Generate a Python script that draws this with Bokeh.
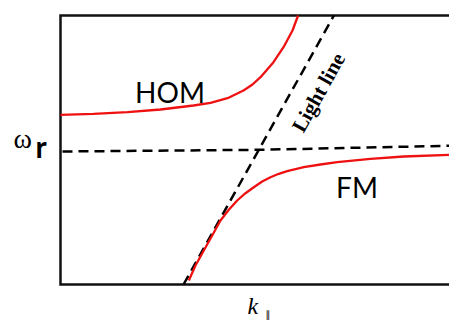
from bokeh.plotting import figure
from bokeh.models import Label, Range1d
from bokeh.embed import file_html
from bokeh.resources import INLINE

# ---- data (arbitrary units) ----
K_RANGE = [0, 389]      # extent of the boxed plot area along k
W_RANGE = [0, 269]      # extent of the boxed plot area along omega

hom_k = [0, 33, 67, 100, 133, 150, 167, 183, 192, 200, 213, 223, 232, 237.6]
hom_w = [169.7, 170.7, 172.3, 175, 179, 181.7, 186.3, 194, 200, 207.3, 222.3, 237.3, 254, 269]

fm_k = [128.3, 135, 143.3, 151.7, 160, 168.3, 176.7, 185, 193.3, 201.7, 210, 218.3,
        226.7, 243.3, 260, 276.7, 310, 343.3, 389]
fm_w = [4, 19, 34, 49, 64, 74.7, 84, 91.3, 97.3, 103, 107.3, 110.7,
        113.3, 117.3, 120, 122.3, 125.7, 128, 129.7]

light_k = [123, 273.4]
light_w = [0, 269]

wr_k = [2, 198, 389]
wr_w = [133, 134.7, 138.7]

# canvas covers the box plus the margins holding the symbols
p = figure(width=449, height=320, output_backend="svg", toolbar_location=None,
           x_range=Range1d(K_RANGE[0] - 60, K_RANGE[1]),
           y_range=Range1d(W_RANGE[0] - 36, W_RANGE[1] + 15),
           x_axis_type=None, y_axis_type=None,
           min_border=0, min_border_left=0, min_border_right=0,
           min_border_top=0, min_border_bottom=0)
p.outline_line_color = None
p.background_fill_color = "white"
p.border_fill_color = "white"

# open box: top, left, bottom
p.line([K_RANGE[1], K_RANGE[0], K_RANGE[0], K_RANGE[1]],
       [W_RANGE[1], W_RANGE[1], W_RANGE[0], W_RANGE[0]],
       line_color="#111111", line_width=2.5, line_join="miter")

# dashed lines
p.line(wr_k, wr_w, line_color="black", line_width=2.5, line_dash="10 6")
p.line(light_k, light_w, line_color="black", line_width=2.5, line_dash="10 6")

# polariton branches
p.line(hom_k, hom_w, line_color="#ee1111", line_width=2.3)
p.line(fm_k, fm_w, line_color="#ee1111", line_width=2.3)

def lab(x, y, text, font, size, style="normal", align="center", angle=0.0):
    p.add_layout(Label(x=x, y=y, text=text, text_font=font, text_font_size=size,
                       text_font_style=style, text_align=align, text_baseline="middle",
                       angle=angle, text_color="black"))

# labels
lab(109.5, 193, "HOM", "Lato", "28px")
lab(296.5, 98, "FM", "Lato", "28px")
lab(258, 192, "Light line", "Liberation Serif", "21px", style="bold", angle=1.061)

# axis symbols
lab(-47, 146, "ω", "Liberation Serif", "28px", align="left")
lab(-25, 139, "r", "Lato", "30px", style="bold", align="left")
lab(187, -21, "k", "Liberation Serif", "24px", style="italic", align="left")
lab(205, -30, "∥", "DejaVu Sans", "10px", align="left")

open("out.html", "w").write(file_html(p, INLINE))
